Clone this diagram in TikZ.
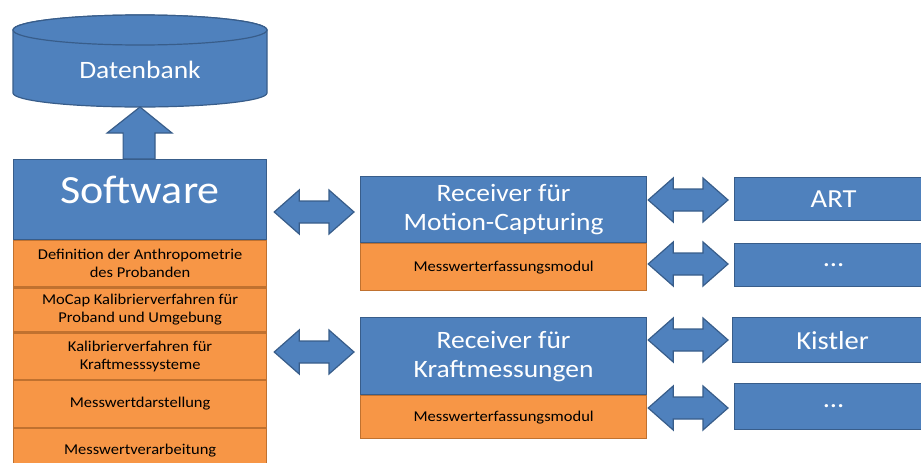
\documentclass[tikz,border=0pt]{standalone}
\usepackage{fontspec}
\setmainfont{Carlito}[FakeStretch=1.1]
\usepackage{xcolor}
\usepackage{tikz}
\usetikzlibrary{calc,positioning}
\definecolor{blue}{HTML}{4F81BD}
\definecolor{blueline}{HTML}{385D8A}
\definecolor{orange}{HTML}{F79646}
\definecolor{orangeline}{HTML}{C0712F}
\tikzset{
  bluebox/.style={draw=blueline, fill=blue, line width=1.2pt, text=white, anchor=north west, inner sep=0pt, align=center},
  orangebox/.style={draw=orangeline, fill=orange, line width=1.2pt, text=black, inner sep=0pt, align=center, font=\fontsize{15}{18}\selectfont},
  blockarrow/.style={draw=blueline, fill=blue, line width=1.2pt, line join=miter},
  big/.style={font=\fontsize{25}{29}\selectfont},
  sys/.style={font=\fontsize{26}{30}\selectfont},
  huge/.style={font=\fontsize{40}{44}\selectfont}
}

\begin{document}
\begin{tikzpicture}[x=1pt, y=-1pt]
  \useasboundingbox (0,0) rectangle (921,463);
  \clip (0,0) rectangle (921,463);

  % database
  \path[blockarrow] (13,30) -- (13,93) arc[start angle=180, end angle=360, x radius=127pt, y radius=14pt]
    -- (267,30) arc[start angle=0, end angle=180, x radius=127pt, y radius=15pt] -- cycle;
  \draw[blockarrow] (140,30) ellipse[x radius=127pt, y radius=15pt];
  \node[text=white, font=\fontsize{25}{30}\selectfont] (db) at (140,70) {Datenbank};
  \coordinate (dbbot) at (140,107);

  % software stack
  \node[bluebox, minimum width=253pt, minimum height=80pt] (sw) at (13,159) {};
  \node[huge, text=white] (swtext) at ($(sw.north)+(0,31)$) {Software};
  \node[orangebox, minimum width=253pt, minimum height=46pt, below=0pt of sw] (o1) {Definition der Anthropometrie\\des Probanden};
  \node[orangebox, minimum width=253pt, minimum height=44pt, below=0pt of o1] (o2) {MoCap Kalibrierverfahren für\\Proband und Umgebung};
  \node[orangebox, minimum width=253pt, minimum height=46pt, below=0pt of o2] (o3) {Kalibrierverfahren für\\Kraftmesssysteme};
  \node[orangebox, minimum width=253pt, minimum height=47pt, below=0pt of o3] (o4) {Messwertdarstellung};
  \node[orangebox, minimum width=253pt, minimum height=43pt, below=0pt of o4] (o5) {Messwertverarbeitung};

  % receivers
  \node[bluebox, big, minimum width=286pt, minimum height=66pt] (mc) at (360,176) {Receiver für\\Motion-Capturing};
  \node[orangebox, minimum width=286pt, minimum height=47pt, below=0pt of mc] (mcm) {Messwerterfassungsmodul};
  \node[bluebox, big, minimum width=286pt, minimum height=77pt] (kr) at (360,317) {Receiver für\\Kraftmessungen};
  \node[orangebox, minimum width=286pt, minimum height=43pt, below=0pt of kr] (krm) {Messwerterfassungsmodul};

  % systems
  \node[bluebox, sys, minimum width=198pt, minimum height=43pt] (art) at (734,177) {ART};
  \node[bluebox, sys, minimum width=198pt, minimum height=43pt] (d1) at (734,243) {...};
  \node[bluebox, sys, minimum width=200pt, minimum height=45pt] (kis) at (732,317) {Kistler};
  \node[bluebox, sys, minimum width=198pt, minimum height=46pt] (d2) at (734,383) {...};

  % up arrow
  \path[blockarrow] (dbbot) -- ++(32,26) -- ++(-17,0) -- ($(sw.north)+(15,0)$) -- ($(sw.north)+(-17,0)$)
    -- ++(0,-26) -- ++(-16,0) -- cycle;

  % double arrows
  \foreach \a/\b/\y/\ga/\gb in {sw/mc/212/7/6, sw/kr/352/7/6, mc/art/200/1/6, mcm/d1/264/1/6, kr/kis/340/1/4, krm/d2/408/1/6} {
    \coordinate (p) at ($(\a.east |- 0,\y)+(\ga,0)$);
    \coordinate (q) at ($(\b.west |- 0,\y)+(-\gb,0)$);
    \path[blockarrow] (p) -- ++(25,-22) -- ++(0,11) -- ($(q)+(-25,-11)$) -- ++(0,-11) -- (q)
      -- ++(-25,22) -- ++(0,-11) -- ($(p)+(25,11)$) -- ++(0,11) -- cycle;
  }
\end{tikzpicture}
\end{document}
